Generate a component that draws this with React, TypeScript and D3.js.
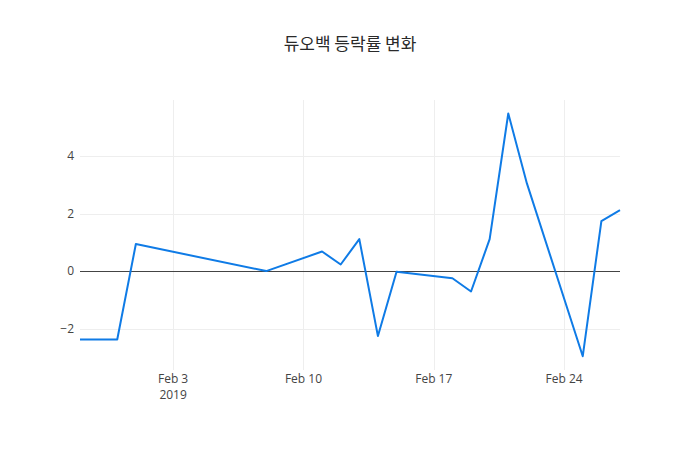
import React, { useEffect, useRef } from "react";
import * as d3 from "d3";

const dates = [
  "2019-01-29", "2019-01-31", "2019-02-01", "2019-02-08", "2019-02-11",
  "2019-02-12", "2019-02-13", "2019-02-14", "2019-02-15", "2019-02-18",
  "2019-02-19", "2019-02-20", "2019-02-21", "2019-02-22", "2019-02-25",
  "2019-02-26", "2019-02-27",
];
const changes = [
  -2.38, -2.38, 0.94, 0.0, 0.68,
  0.23, 1.11, -2.26, -0.02, -0.25,
  -0.71, 1.11, 5.48, 3.05, -2.96,
  1.74, 2.12,
];
const yTicks = [-2, 0, 2, 4];
const xTicks = ["2019-02-03", "2019-02-10", "2019-02-17", "2019-02-24"];
const xTickLabels = ["Feb 3", "Feb 10", "Feb 17", "Feb 24"];
const title = "듀오백 등락률 변화";

export default function App() {
  const svgRef = useRef<SVGSVGElement>(null);

  useEffect(() => {
    if (!svgRef.current) return;
    const W = 700, H = 450;
    const margin = { top: 100, right: 80, bottom: 80, left: 80 };
    const width = W - margin.left - margin.right;
    const height = H - margin.top - margin.bottom;
    const parse = d3.utcParse("%Y-%m-%d");
    const data = dates.map((d, i) => ({ date: parse(d)!, v: changes[i] }));

    const root = d3.select(svgRef.current);
    root.selectAll("*").remove();
    root.attr("width", W).attr("height", H).style("font-family", "'Open Sans', 'Noto Sans', sans-serif");

    root.append("rect").attr("width", W).attr("height", H).attr("fill", "#fff");

    root.append("text")
      .attr("x", W / 2).attr("y", 50)
      .attr("text-anchor", "middle")
      .style("font-family", "'Noto Sans CJK KR', sans-serif")
      .style("font-size", "17px")
      .attr("fill", "#2a2a2a")
      .text(title);

    const svg = root.append("g").attr("transform", `translate(${margin.left},${margin.top})`);

    const x = d3.scaleUtc()
      .domain(d3.extent(data, d => d.date) as [Date, Date])
      .range([0, width]);
    const y = d3.scaleLinear().domain([-3.44, 5.95]).range([height, 0]);

    // Grid
    xTicks.forEach(t => {
      const xp = Math.round(x(parse(t)!)) + 0.5;
      svg.append("line").attr("x1", xp).attr("x2", xp).attr("y1", 0).attr("y2", height)
        .attr("stroke", "#eee").attr("stroke-width", 1);
    });
    yTicks.forEach(t => {
      if (t === 0) return;
      const yp = Math.round(y(t)) + 0.5;
      svg.append("line").attr("x1", 0).attr("x2", width).attr("y1", yp).attr("y2", yp)
        .attr("stroke", "#eee").attr("stroke-width", 1);
    });
    const y0 = Math.round(y(0)) + 0.5;
    svg.append("line").attr("x1", 0).attr("x2", width).attr("y1", y0).attr("y2", y0)
      .attr("stroke", "#444").attr("stroke-width", 1);

    // Tick labels
    yTicks.forEach(t => {
      svg.append("text").attr("x", -6).attr("y", y(t)).attr("dy", "0.35em")
        .attr("text-anchor", "end").style("font-size", "12px").attr("fill", "#444")
        .text(t < 0 ? `\u2212${Math.abs(t)}` : `${t}`);
    });
    xTicks.forEach((t, i) => {
      const xp = x(parse(t)!);
      svg.append("text").attr("x", xp).attr("y", height + 13)
        .attr("text-anchor", "middle").style("font-size", "12px").attr("fill", "#444")
        .text(xTickLabels[i]);
      if (i === 0) {
        svg.append("text").attr("x", xp).attr("y", height + 29)
          .attr("text-anchor", "middle").style("font-size", "12px").attr("fill", "#444")
          .text("2019");
      }
    });

    const line = d3.line<{ date: Date; v: number }>().x(d => x(d.date)).y(d => y(d.v));
    svg.append("path").datum(data)
      .attr("fill", "none").attr("stroke", "#0f7be6").attr("stroke-width", 2)
      .attr("stroke-linejoin", "round")
      .attr("d", line);
  }, []);

  return (
    <div style={{ position: "absolute", left: 0, top: 0 }}>
      <svg ref={svgRef}></svg>
    </div>
  );
}
